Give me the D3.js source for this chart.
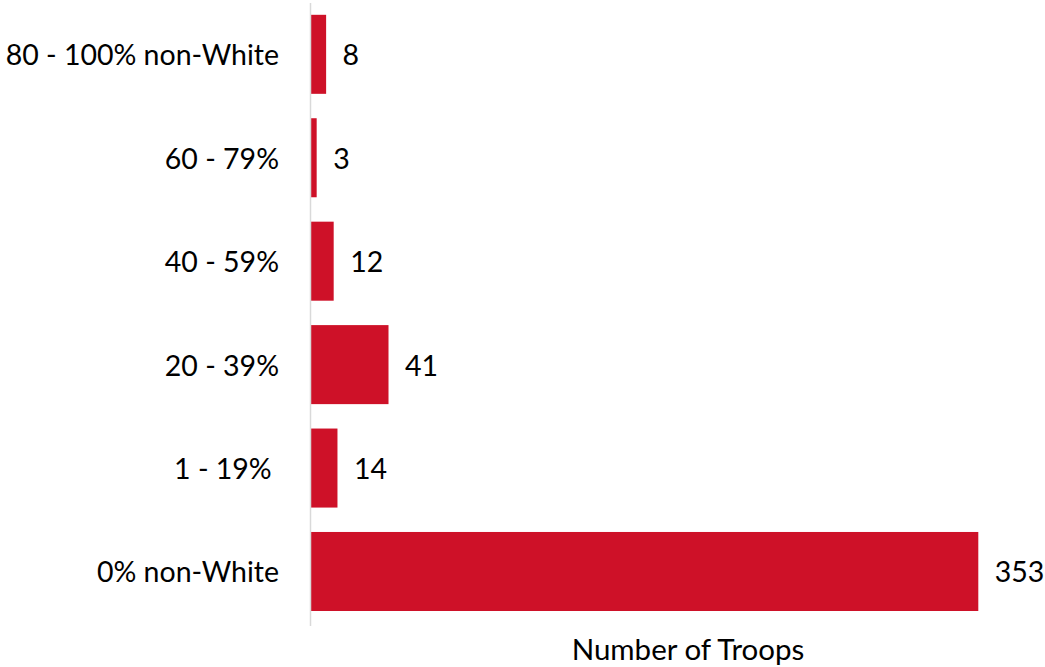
<!DOCTYPE html>
<html>
<head>
<meta charset="utf-8">
<script src="https://cdn.jsdelivr.net/npm/d3@7"></script>
<style>
  html, body { margin: 0; padding: 0; background: #fff; }
  text { font-family: Lato, "Open Sans", sans-serif; fill: #000; }
</style>
</head>
<body>
<svg id="chart" width="1045" height="667"></svg>
<script>
const categories = ["80 - 100% non-White", "60 - 79%", "40 - 59%", "20 - 39%", "1 - 19% ", "0% non-White"];
const values = [8, 3, 12, 41, 14, 353];
const axisTitle = "Number of Troops";

const svg = d3.select("#chart");

const x = d3.scaleLinear().domain([0, 353]).range([311, 978.3]);
const y = d3.scaleBand().domain(categories).range([2.6, 623.2]).paddingInner(0.236).paddingOuter(0.118);

const data = categories.map((c, i) => ({ c, v: values[i] }));

// bars
svg.selectAll("rect.bar").data(data).join("rect")
  .attr("class", "bar")
  .attr("x", x(0))
  .attr("y", d => y(d.c))
  .attr("width", d => x(d.v) - x(0))
  .attr("height", y.bandwidth())
  .attr("fill", "#CE1128");

// vertical axis line
svg.append("line")
  .attr("x1", x(0) - 0.5).attr("x2", x(0) - 0.5)
  .attr("y1", 3).attr("y2", 626)
  .attr("stroke", "#d9d9d9").attr("stroke-width", 1.5);

// category labels
svg.selectAll("text.cat").data(data).join("text")
  .attr("class", "cat")
  .attr("x", 279)
  .attr("y", d => y(d.c) + y.bandwidth() / 2)
  .attr("text-anchor", "end")
  .attr("dominant-baseline", "central")
  .style("white-space", "pre")
  .style("font-size", "28.5px")
  .text(d => d.c);

// value labels
svg.selectAll("text.val").data(data).join("text")
  .attr("class", "val")
  .attr("x", d => x(d.v) + 16.5)
  .attr("y", d => y(d.c) + y.bandwidth() / 2)
  .attr("dominant-baseline", "central")
  .style("font-size", "28.5px")
  .text(d => d.v);

// axis title
svg.append("text")
  .attr("x", 688)
  .attr("y", 660)
  .attr("text-anchor", "middle")
  .style("font-size", "29.5px")
  .text(axisTitle);
</script>
</body>
</html>
